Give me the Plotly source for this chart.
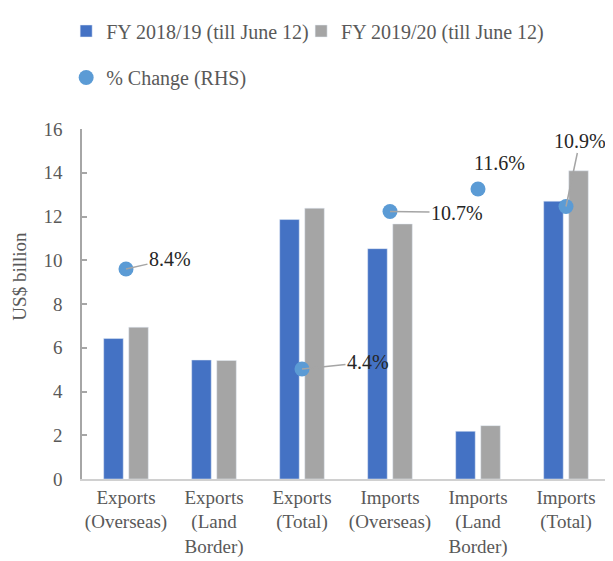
import plotly.graph_objects as go

# Trade values, US$ billion
categories = ["Exports<br>(Overseas)", "Exports<br>(Land<br>Border)", "Exports<br>(Total)",
              "Imports<br>(Overseas)", "Imports<br>(Land<br>Border)", "Imports<br>(Total)"]
fy_2018_19 = [6.42, 5.44, 11.86, 10.53, 2.18, 12.70]
fy_2019_20 = [6.94, 5.42, 12.38, 11.66, 2.44, 14.09]
pct_change = [8.4, None, 4.4, 10.7, 11.6, 10.9]
pct_labels = ["8.4%", None, "4.4%", "10.7%", "11.6%", "10.9%"]

# Label offsets (px) from each dot, and whether a leader line is drawn
label_offsets = [(44, -10), None, (66, -7), (67, 1), (21, -26), (14, -66)]
leader_lines = [True, None, True, True, False, True]

font_family = "Liberation Serif, DejaVu Serif, serif"
grey_text = "#595959"

fig = go.Figure()

fig.add_bar(x=categories, y=fy_2018_19, name="FY 2018/19 (till June 12)",
            marker_color="#4472C4", legend="legend")
fig.add_bar(x=categories, y=fy_2019_20, name="FY 2019/20 (till June 12)",
            marker_color="#A5A5A5", legend="legend3")
fig.add_scatter(x=categories, y=pct_change, name="% Change (RHS)", yaxis="y2",
                mode="markers", marker=dict(size=15, color="#5B9BD5"),
                legend="legend2")

# Data labels with grey leader lines
for cat, val, text, off, line in zip(categories, pct_change, pct_labels,
                                     label_offsets, leader_lines):
    if val is None:
        continue
    fig.add_annotation(x=cat, y=val, yref="y2", text=text,
                       showarrow=line, arrowhead=0, arrowwidth=1.5,
                       arrowcolor="#A5A5A5", standoff=0,
                       ax=off[0], ay=off[1],
                       xshift=0 if line else off[0],
                       yshift=0 if line else -off[1],
                       font=dict(family=font_family, size=20, color="#262626"))

# Axis title, placed by hand as in the original (not centred on the axis)
fig.add_annotation(xref="paper", yref="paper", x=-0.12, y=0.58, text="US$ billion",
                   textangle=-90, showarrow=False, xanchor="center", yanchor="middle",
                   font=dict(family=font_family, size=19, color=grey_text))

legend_font = dict(family=font_family, size=20, color=grey_text)
clear = "rgba(0,0,0,0)"

fig.update_layout(
    # page body adds an 8px margin, so the figure is shrunk and shifted by it
    width=605, height=553,
    margin=dict(l=74, r=3, t=117, b=82),
    plot_bgcolor="white", paper_bgcolor="white",
    font=dict(family=font_family, size=19, color=grey_text),
    bargap=0.43, bargroupgap=0.22,
    showlegend=True,
    legend=dict(orientation="h", x=-0.03, xanchor="left", y=1.28, yanchor="middle",
                font=legend_font, bgcolor=clear),
    legend3=dict(orientation="h", x=0.415, xanchor="left", y=1.28, yanchor="middle",
                 font=legend_font, bgcolor=clear),
    legend2=dict(orientation="h", x=-0.03, xanchor="left", y=1.147, yanchor="middle",
                 font=legend_font, bgcolor=clear),
    xaxis=dict(showline=True, linecolor="#D0D0D0", linewidth=1.5, ticks="",
               tickfont=dict(size=19, color=grey_text), range=[-0.5, 5.5]),
    yaxis=dict(range=[0, 16], dtick=2, showgrid=False, zeroline=False,
               showline=True, linecolor="#A6A6A6", linewidth=1.5,
               ticks="inside", ticklen=5, tickcolor="#A6A6A6", tickwidth=1.5,
               ticklabelstandoff=14, tickfont=dict(size=19, color=grey_text)),
    yaxis2=dict(range=[0, 14], overlaying="y", side="right", showgrid=False,
                zeroline=False, showticklabels=False, showline=True,
                linecolor="#D9D9D9", linewidth=1.5),
)

fig.write_html("out.html")
